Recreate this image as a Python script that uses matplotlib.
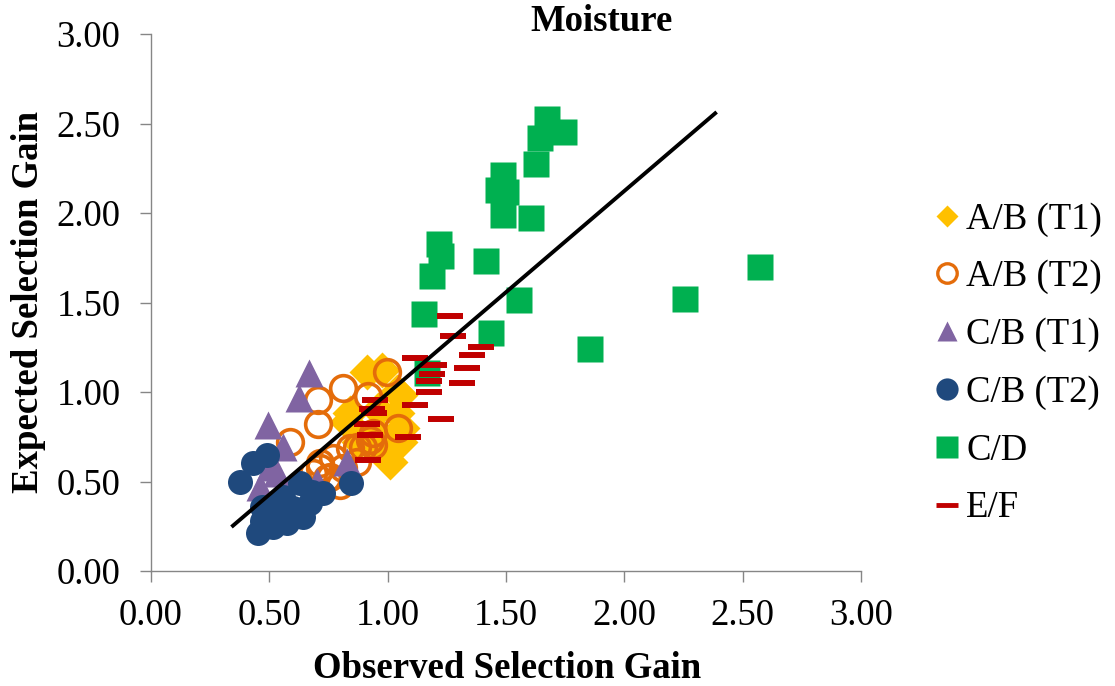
import matplotlib
matplotlib.use("Agg")
import matplotlib.pyplot as plt
from matplotlib.lines import Line2D

plt.rcParams['font.family'] = ['Liberation Serif', 'DejaVu Serif']

# data (observed, expected)
ab_t1_x = [0.911, 0.975, 1.038, 1.052, 0.841, 1.038, 0.827, 1.052, 0.981, 1.010, 0.950, 0.880, 0.960, 1.060]
ab_t1_y = [1.113, 1.123, 1.002, 0.983, 0.881, 0.881, 0.834, 0.722, 0.667, 0.611, 0.780, 0.720, 0.900, 0.800]

ab_t2_x = [0.996, 0.812, 0.918, 0.707, 0.707, 0.587, 1.045, 0.939, 0.925, 0.869, 0.940, 0.897, 0.841,
           0.770, 0.869, 0.714, 0.812, 0.686, 0.742, 0.799, 0.756, 0.714]
ab_t2_y = [1.113, 1.020, 0.975, 0.955, 0.820, 0.722, 0.800, 0.769, 0.732, 0.695, 0.704, 0.695, 0.685,
           0.630, 0.611, 0.574, 0.574, 0.546, 0.518, 0.480, 0.527, 0.602]

cb_t1_x = [0.667, 0.627, 0.496, 0.559, 0.827, 0.503, 0.531, 0.460, 0.615, 0.570, 0.700]
cb_t1_y = [1.104, 0.965, 0.816, 0.690, 0.611, 0.580, 0.550, 0.470, 0.330, 0.400, 0.500]

cb_t2_x = [0.489, 0.432, 0.375, 0.844, 0.728, 0.672, 0.630, 0.559, 0.468, 0.503, 0.454, 0.517,
           0.573, 0.644, 0.600, 0.530, 0.470, 0.680]
cb_t2_y = [0.648, 0.602, 0.496, 0.490, 0.434, 0.378, 0.490, 0.415, 0.359, 0.322, 0.210, 0.248,
           0.270, 0.303, 0.350, 0.380, 0.280, 0.440]

cd_x = [1.673, 1.745, 1.645, 1.627, 1.488, 1.468, 1.500, 1.488, 1.607, 1.218, 1.226, 1.188, 1.417,
        1.556, 1.155, 1.438, 1.856, 2.257, 2.574, 1.167]
cd_y = [2.525, 2.450, 2.417, 2.272, 2.210, 2.130, 2.120, 1.990, 1.970, 1.825, 1.758, 1.646, 1.730,
        1.512, 1.434, 1.328, 1.239, 1.518, 1.697, 1.105]

ef_x = [1.265, 1.277, 1.396, 1.357, 1.336, 1.315, 1.117, 1.197, 1.188, 1.176, 1.176, 0.946, 1.115,
        0.935, 0.942, 1.227, 0.911, 0.927, 1.087, 0.918]
ef_y = [1.426, 1.314, 1.253, 1.209, 1.136, 1.052, 1.190, 1.152, 1.102, 1.063, 1.002, 0.957, 0.929,
        0.907, 0.881, 0.851, 0.821, 0.762, 0.751, 0.622]

line_x = [0.34, 2.39]
line_y = [0.246, 2.564]

ticks = [0.0, 0.5, 1.0, 1.5, 2.0, 2.5, 3.0]

c_yellow = '#FFC000'
c_orange = '#E46C0A'
c_purple = '#8064A2'
c_navy = '#1F497D'
c_green = '#00B050'
c_red = '#C00000'
grey = '#868686'

fig = plt.figure(figsize=(11.15, 6.86), dpi=100)
ax = fig.add_axes([151/1115, 1-571/686, 710/1115, 537/686])

ax.plot(ab_t1_x, ab_t1_y, 'D', ms=18, color=c_yellow, mec='none', ls='none')
ax.plot(ab_t2_x, ab_t2_y, 'o', ms=18.5, mfc='none', mec=c_orange, mew=2.6, ls='none')
ax.plot(cb_t1_x, cb_t1_y, '^', ms=19.5, color=c_purple, mec='none', ls='none')
ax.plot(cb_t2_x, cb_t2_y, 'o', ms=18, color=c_navy, mec='none', ls='none')
ax.plot(cd_x, cd_y, 's', ms=19.4, color=c_green, mec='none', ls='none')
ax.plot(ef_x, ef_y, '_', ms=19.4, mec=c_red, mew=4.3, ls='none')
ax.plot(line_x, line_y, color='black', lw=2.8, solid_capstyle='butt')

ax.set_xlim(0, 3)
ax.set_ylim(0, 3)
ax.set_xticks(ticks)
ax.set_yticks(ticks)
ax.set_xticklabels(['%.2f' % t for t in ticks])
ax.set_yticklabels(['%.2f' % t for t in ticks])
for s in ['top', 'right']:
    ax.spines[s].set_visible(False)
for s in ['left', 'bottom']:
    ax.spines[s].set_color(grey)
    ax.spines[s].set_linewidth(1.0)
ax.tick_params(direction='out', length=8, width=1.0, color=grey, labelsize=26.5, pad=14)
ax.tick_params(axis='x', pad=12)

fig.text(507/1115, 1-678/686, 'Observed Selection Gain', ha='center', va='baseline',
         fontsize=26.5, fontweight='bold')
fig.text(38/1115, 1-302/686, 'Expected Selection Gain', ha='center', va='baseline',
         rotation=90, rotation_mode='anchor', fontsize=26.5, fontweight='bold')
fig.text(602/1115, 1-31/686, 'Moisture', ha='center', va='baseline',
         fontsize=26.5, fontweight='bold')

handles = [
    Line2D([], [], marker='D', ls='none', ms=11, color=c_yellow, mec='none'),
    Line2D([], [], marker='o', ls='none', ms=14, mfc='none', mec=c_orange, mew=2.4),
    Line2D([], [], marker='^', ls='none', ms=15, color=c_purple, mec='none'),
    Line2D([], [], marker='o', ls='none', ms=16, color=c_navy, mec='none'),
    Line2D([], [], marker='s', ls='none', ms=15.5, color=c_green, mec='none'),
    Line2D([], [], marker='_', ls='none', ms=15.5, mec=c_red, mew=3.5),
]
labels = ['A/B (T1)', 'A/B (T2)', 'C/B (T1)', 'C/B (T2)', 'C/D', 'E/F']
fig.legend(handles, labels, loc='upper left', bbox_to_anchor=(936/1115, 1-202/686),
           frameon=False, fontsize=26.5, handlelength=0.6, handletextpad=0.22,
           labelspacing=0.63, borderpad=0, borderaxespad=0)

fig.savefig('out.png', dpi=100)
